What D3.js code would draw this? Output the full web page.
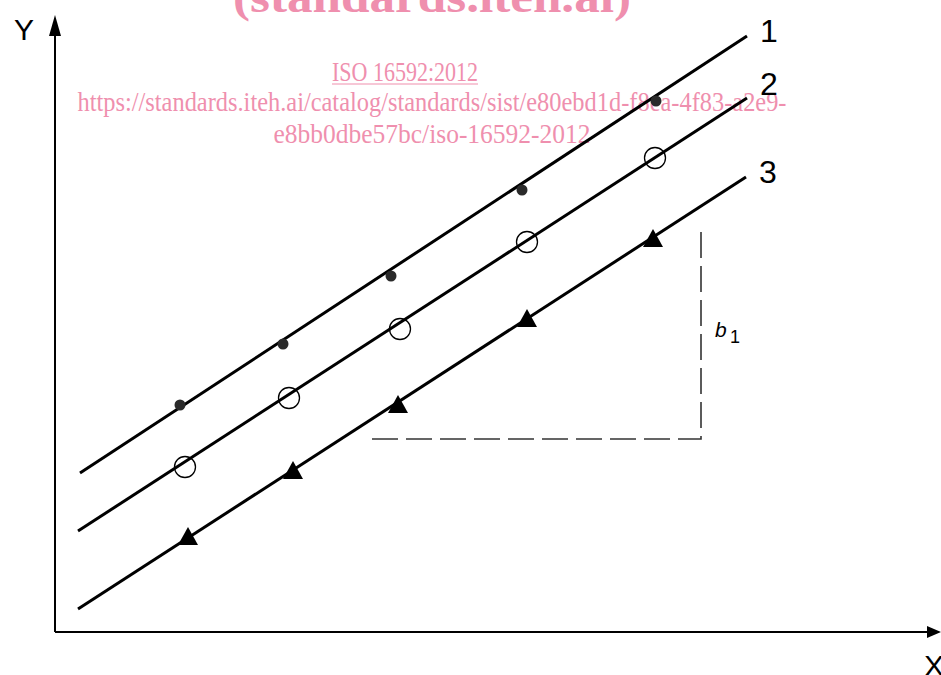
<!DOCTYPE html>
<html>
<head>
<meta charset="utf-8">
<script src="https://cdn.jsdelivr.net/npm/d3@7"></script>
<style>
  html, body { margin: 0; padding: 0; background: #fff; overflow: hidden; }
  svg { display: block; }
</style>
</head>
<body>
<div id="chart"></div>
<script>
// series lines (start/end in chart units, origin at the axes corner)
const lineNames = ["1", "2", "3"];
const lineStarts = [[25, 159], [23, 101], [23, 23]];
const lineEnds = [[692, 596], [692, 534], [691, 455]];

// measured points for each series
const dots1 = [[125, 227], [228, 288], [336, 356], [467, 442], [601, 531]];
const circles2 = [[130, 165], [234, 234], [345, 303], [472, 390], [600, 474]];
const triangles3 = [[133, 95], [238, 161], [343, 227], [472, 313], [598, 393]];

// slope helper (dashed right angle)
const slopeCorner = [646, 193];
const slopeLeft = 317;
const slopeTop = 402;

const watermark = [
    "ISO 16592:2012",
    "https://standards.iteh.ai/catalog/standards/sist/e80ebd1d-f8ea-4f83-a2e9-",
    "e8bb0dbe57bc/iso-16592-2012"
];

const width = 941;
const height = 675;
const originX = 55;
const originY = 632;

const svg = d3.select('#chart')
    .append('svg')
    .attr('width', width)
    .attr('height', height)
    .attr('viewBox', [0, 0, width, height]);

const x = d3.scaleLinear().domain([0, 886]).range([originX, originX + 886]);
const y = d3.scaleLinear().domain([0, 617]).range([originY, originY - 617]);

const pink = '#ef8fae';

// watermark
svg.append('text')
    .attr('x', 432)
    .attr('y', 12)
    .attr('text-anchor', 'middle')
    .attr('fill', pink)
    .style('font-family', '"Liberation Serif", serif')
    .style('font-weight', 'bold')
    .style('font-size', '44px')
    .attr('textLength', 398)
    .attr('lengthAdjust', 'spacingAndGlyphs')
    .text('(standards.iteh.ai)');

const wmX = [332, 432, 432];
const wmY = [81, 111, 143];
const wmLen = [146, 709, 317];
svg.append('g')
    .attr('fill', pink)
    .style('font-family', '"Liberation Serif", serif')
    .style('font-size', '27px')
    .selectAll('text')
    .data(watermark)
    .join('text')
    .attr('x', (d, i) => wmX[i])
    .attr('y', (d, i) => wmY[i])
    .attr('text-anchor', (d, i) => i === 0 ? 'start' : 'middle')
    .attr('textLength', (d, i) => wmLen[i])
    .attr('lengthAdjust', 'spacingAndGlyphs')
    .text(d => d);

svg.append('line')
    .attr('x1', 332).attr('x2', 478)
    .attr('y1', 84).attr('y2', 84)
    .attr('stroke', pink)
    .attr('stroke-width', 1.2);

// axes with arrows
svg.append('line')
    .attr('x1', x(0)).attr('y1', y(0))
    .attr('x2', x(0)).attr('y2', y(617) + 18)
    .attr('stroke', '#000').attr('stroke-width', 2);
svg.append('path')
    .attr('d', `M${x(0)},${y(617)} L${x(0) - 6},${y(617) + 21} L${x(0) + 6},${y(617) + 21} Z`)
    .attr('fill', '#000');
svg.append('line')
    .attr('x1', x(0)).attr('y1', y(0))
    .attr('x2', x(886) - 12).attr('y2', y(0))
    .attr('stroke', '#000').attr('stroke-width', 2);
svg.append('path')
    .attr('d', `M${x(886)},${y(0)} L${x(886) - 14},${y(0) - 6} L${x(886) - 14},${y(0) + 6} Z`)
    .attr('fill', '#000');

svg.append('text')
    .attr('x', 24).attr('y', 40)
    .attr('text-anchor', 'middle')
    .style('font-family', '"Liberation Sans", Arial, sans-serif')
    .style('font-size', '30px')
    .text('Y');
svg.append('text')
    .attr('x', 934).attr('y', 676)
    .attr('text-anchor', 'middle')
    .style('font-family', '"Liberation Sans", Arial, sans-serif')
    .style('font-size', '30px')
    .text('X');

// dashed slope triangle
svg.append('path')
    .attr('d', `M${x(slopeLeft)},${y(slopeCorner[1])} L${x(slopeCorner[0])},${y(slopeCorner[1])} L${x(slopeCorner[0])},${y(slopeTop)}`)
    .attr('fill', 'none')
    .attr('stroke', '#333')
    .attr('stroke-width', 1.6)
    .attr('stroke-dasharray', '26 8');

svg.append('text')
    .attr('x', 715).attr('y', 337)
    .style('font-family', '"Liberation Sans", Arial, sans-serif')
    .style('font-size', '21px')
    .style('font-style', 'italic')
    .text('b');
svg.append('text')
    .attr('x', 730).attr('y', 343)
    .style('font-family', '"Liberation Sans", Arial, sans-serif')
    .style('font-size', '18px')
    .text('1');

// lines
svg.append('g')
    .attr('stroke', '#000')
    .attr('stroke-width', 3)
    .selectAll('line')
    .data(lineNames)
    .join('line')
    .attr('x1', (d, i) => x(lineStarts[i][0]))
    .attr('y1', (d, i) => y(lineStarts[i][1]))
    .attr('x2', (d, i) => x(lineEnds[i][0]))
    .attr('y2', (d, i) => y(lineEnds[i][1]));

svg.append('g')
    .style('font-family', '"Liberation Sans", Arial, sans-serif')
    .style('font-size', '32px')
    .selectAll('text')
    .data(lineNames)
    .join('text')
    .attr('x', (d, i) => x(lineEnds[i][0]) + 22)
    .attr('y', (d, i) => y(lineEnds[i][1]) + [6, -3, 6][i])
    .attr('text-anchor', 'middle')
    .text(d => d);

// markers
svg.append('g')
    .selectAll('circle')
    .data(dots1)
    .join('circle')
    .attr('cx', d => x(d[0]))
    .attr('cy', d => y(d[1]))
    .attr('r', 5.5)
    .attr('fill', '#2a2a2a');

svg.append('g')
    .selectAll('circle')
    .data(circles2)
    .join('circle')
    .attr('cx', d => x(d[0]))
    .attr('cy', d => y(d[1]))
    .attr('r', 10.5)
    .attr('fill', 'none')
    .attr('stroke', '#000')
    .attr('stroke-width', 1.3);

svg.append('g')
    .selectAll('path')
    .data(triangles3)
    .join('path')
    .attr('d', d => {
        const cx = x(d[0]), cy = y(d[1]);
        return `M${cx},${cy - 10} L${cx + 10},${cy + 8} L${cx - 10},${cy + 8} Z`;
    })
    .attr('fill', '#000');
</script>
</body>
</html>
